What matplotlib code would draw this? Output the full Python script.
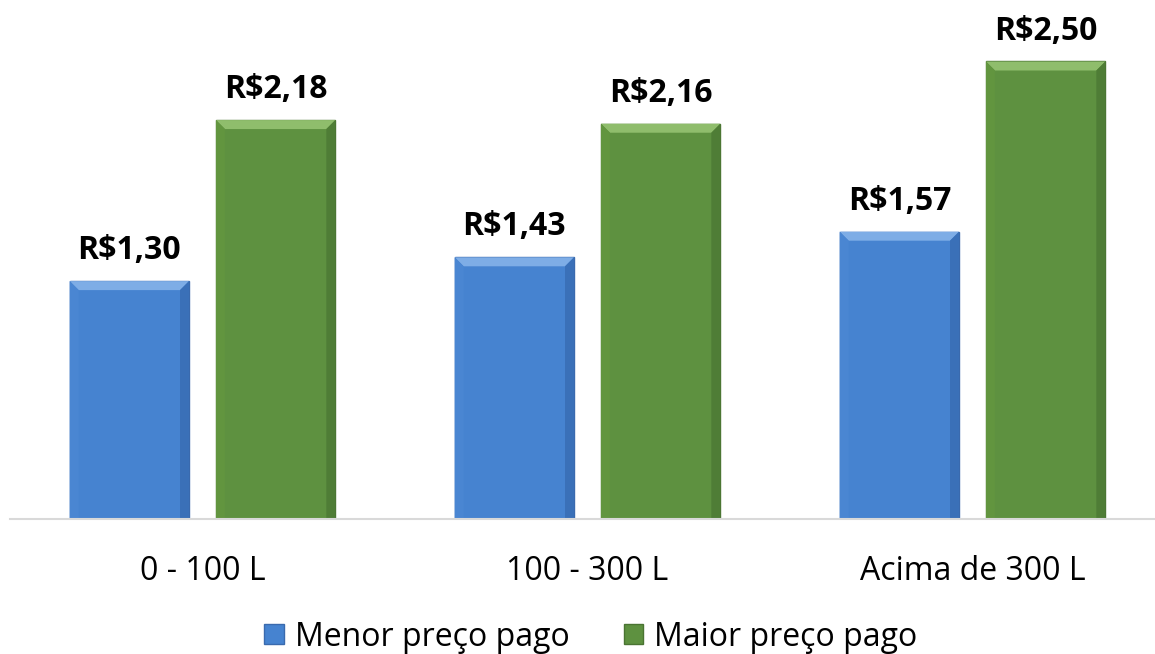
import matplotlib.pyplot as plt
from matplotlib.patches import Polygon
import numpy as np

plt.rcParams['font.family'] = ['Open Sans', 'DejaVu Sans']

categorias = ['0 - 100 L', '100 - 300 L', 'Acima de 300 L']
menor = [1.30, 1.43, 1.57]
maior = [2.18, 2.16, 2.50]

x = np.arange(len(categorias))
width = 0.31
off = 0.19

fig = plt.figure(figsize=(11.55, 6.54), dpi=100)
ax = fig.add_axes([10 / 1155, 135 / 654, 1 - 10 / 1155, 519 / 654])
ax.set_xlim(-0.5, 2.5 - 10 / 385)
ax.set_ylim(0, 519 / 183)

b1 = ax.bar(x - off, menor, width, color='#4683D0', edgecolor='#3A6AAE', linewidth=1.0,
            label='Menor preço pago')
b2 = ax.bar(x + off, maior, width, color='#5E9140', edgecolor='#4A7432', linewidth=1.0,
            label='Maior preço pago')

# bevel effect (size in pixels converted to data units)
bx = 9 / 385
by = 9 / 183
bevel = {'#4683D0': ('#7EADE6', '#4A86D2', '#3A70B8'),
         '#5E9140': ('#8FBD6C', '#62953F', '#4F7D36')}
for rects, col in ((b1, '#4683D0'), (b2, '#5E9140')):
    top, left, right = bevel[col]
    for r in rects:
        x0, x1 = r.get_x(), r.get_x() + r.get_width()
        h = r.get_height()
        ax.add_patch(Polygon([(x0, h), (x1, h), (x1 - bx, h - by), (x0 + bx, h - by)],
                             closed=True, facecolor=top, edgecolor='none', zorder=3))
        ax.add_patch(Polygon([(x0, h), (x0 + bx, h - by), (x0 + bx, 0), (x0, 0)],
                             closed=True, facecolor=left, edgecolor='none', zorder=3))
        ax.add_patch(Polygon([(x1, h), (x1 - bx, h - by), (x1 - bx, 0), (x1, 0)],
                             closed=True, facecolor=right, edgecolor='none', zorder=3))

for rects, vals in ((b1, menor), (b2, maior)):
    for r, v in zip(rects, vals):
        ax.annotate('R$' + f'{v:.2f}'.replace('.', ','),
                    (r.get_x() + r.get_width() / 2, v), xytext=(0, 10),
                    textcoords='offset points', ha='center', va='bottom',
                    fontsize=23, fontweight='bold', color='black')

ax.set_xticks(x)
ax.set_xticklabels(categorias, fontsize=23)
ax.tick_params(axis='x', length=0, pad=26)
ax.set_yticks([])
for s in ['top', 'right', 'left']:
    ax.spines[s].set_visible(False)
ax.spines['bottom'].set_color('#D9D9D9')
ax.spines['bottom'].set_linewidth(1.5)
ax.spines['bottom'].set_zorder(4)

fig.legend(handles=[b1, b2], loc='center', bbox_to_anchor=(591 / 1155, 1 - 637 / 654), ncol=2,
           frameon=False, fontsize=23, handlelength=0.6, handleheight=0.6,
           handletextpad=0.35, columnspacing=1.7)

fig.savefig('out.png', dpi=100)
